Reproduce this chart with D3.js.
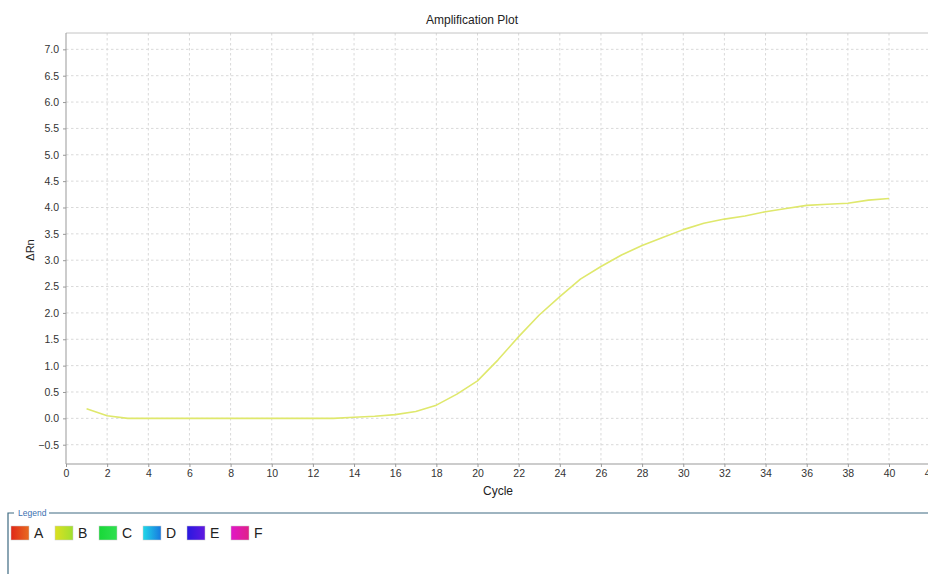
<!DOCTYPE html>
<html>
<head>
<meta charset="utf-8">
<script src="https://cdn.jsdelivr.net/npm/d3@7"></script>
<style>
body{margin:0;background:#fff;overflow:hidden;}
svg{display:block;font-family:"Liberation Sans",Arial,sans-serif;}
.grid line{stroke:#d9d9d9;stroke-dasharray:2.5,2.5;}
.axis path,.axis line{stroke:#999;}
.axis text{fill:#333;font-size:10.5px;}
</style>
</head>
<body>
<svg id="chart" width="928" height="574"></svg>
<script>
// amplification data, well B
var cycles = [1,2,3,4,5,6,7,8,9,10,11,12,13,14,15,16,17,18,19,20,21,22,23,24,25,26,27,28,29,30,31,32,33,34,35,36,37,38,39,40];
var deltaRn = [0.18,0.05,0.0,0.0,0.0,0.0,0.0,0.0,0.0,0.0,0.0,0.0,0.0,0.02,0.04,0.07,0.13,0.25,0.46,0.71,1.11,1.55,1.96,2.31,2.64,2.88,3.10,3.28,3.43,3.58,3.70,3.78,3.84,3.92,3.98,4.04,4.06,4.08,4.14,4.17];
var xTicks = d3.range(0, 44, 2);
var yTicks = [-0.5,0,0.5,1,1.5,2,2.5,3,3.5,4,4.5,5,5.5,6,6.5,7];
var legendNames = ["A","B","C","D","E","F"];
var legendFrom = ["#e02818","#dce020","#18d838","#20d8e8","#2818e0","#e018c8"];
var legendTo   = ["#e86a20","#a0e030","#30e050","#1878e0","#6018e0","#e02088"];
var lineColor = "#dfe86c";

var svg = d3.select("#chart");
var plotLeft = 66, plotTop = 33, plotBottom = 464;

var x = d3.scaleLinear().domain([0, 42.6]).range([plotLeft, plotLeft + 42.6*20.575]);
var y = d3.scaleLinear().domain([-0.866, 7.31]).range([plotBottom, plotTop]);

var defs = svg.append("defs");
defs.append("clipPath").attr("id","plotclip")
  .append("rect").attr("x",plotLeft).attr("y",plotTop).attr("width",928-plotLeft).attr("height",plotBottom-plotTop);

// grid
var grid = svg.append("g").attr("class","grid");
grid.selectAll(".gx").data(xTicks.filter(function(d){return d>0;})).enter().append("line")
  .attr("x1",function(d){return x(d);}).attr("x2",function(d){return x(d);})
  .attr("y1",plotTop).attr("y2",plotBottom);
grid.selectAll(".gy").data(yTicks).enter().append("line")
  .attr("x1",plotLeft).attr("x2",928)
  .attr("y1",function(d){return y(d);}).attr("y2",function(d){return y(d);});

// top border
svg.append("line").attr("x1",plotLeft).attr("x2",928).attr("y1",plotTop).attr("y2",plotTop)
  .attr("stroke","#c4c4c4");

// axes
svg.append("g").attr("class","axis")
  .attr("transform","translate(0,"+plotBottom+")")
  .call(d3.axisBottom(x).tickValues(xTicks).tickFormat(d3.format("d")).tickSize(3).tickSizeOuter(0).tickPadding(3))
  .select(".domain").attr("d","M"+plotLeft+",0H928");

svg.append("g").attr("class","axis")
  .attr("transform","translate("+plotLeft+",0)")
  .call(d3.axisLeft(y).tickValues(yTicks).tickFormat(d3.format(".1f")).tickSize(3).tickSizeOuter(0).tickPadding(4))
  .select(".domain").attr("d","M0,"+plotTop+"V"+plotBottom);

// curve
var line = d3.line()
  .x(function(d,i){return x(cycles[i]);})
  .y(function(d){return y(d);})
  .curve(d3.curveLinear);

svg.append("path").datum(deltaRn)
  .attr("clip-path","url(#plotclip)")
  .attr("d",line)
  .attr("fill","none")
  .attr("stroke",lineColor)
  .attr("stroke-width",1.6)
  .attr("stroke-linejoin","round");

// titles
svg.append("text").text("Amplification Plot")
  .attr("x",472).attr("y",24).attr("text-anchor","middle")
  .attr("font-size","12px").attr("fill","#222");

svg.append("text").text("Cycle")
  .attr("x",498).attr("y",495).attr("text-anchor","middle")
  .attr("font-size","12px").attr("fill","#222");

svg.append("text").text("ΔRn")
  .attr("transform","translate(34,250) rotate(-90)")
  .attr("text-anchor","middle")
  .attr("font-size","11px").attr("fill","#222");

// legend frame
var lg = svg.append("g");
lg.append("path")
  .attr("d","M8,574V513H14 M49,513H928")
  .attr("fill","none").attr("stroke","#3e6a82").attr("stroke-width",1.2);
lg.append("text").text("Legend")
  .attr("x",18).attr("y",516)
  .attr("font-size","8.5px").attr("fill","#3a70b0");

legendNames.forEach(function(n,i){
  var g = defs.append("linearGradient").attr("id","lg"+i);
  g.append("stop").attr("offset","0%").attr("stop-color",legendFrom[i]);
  g.append("stop").attr("offset","100%").attr("stop-color",legendTo[i]);
});

var items = lg.selectAll(".item").data(legendNames).enter().append("g")
  .attr("transform",function(d,i){return "translate("+(11 + i*44)+",526)";});
items.append("rect")
  .attr("width",18).attr("height",14)
  .attr("fill",function(d,i){return "url(#lg"+i+")";})
  .attr("stroke","#ccc").attr("stroke-width",0.5);
items.append("text").text(function(d){return d;})
  .attr("x",23).attr("y",12)
  .attr("font-size","14px").attr("fill","#222");
</script>
</body>
</html>
